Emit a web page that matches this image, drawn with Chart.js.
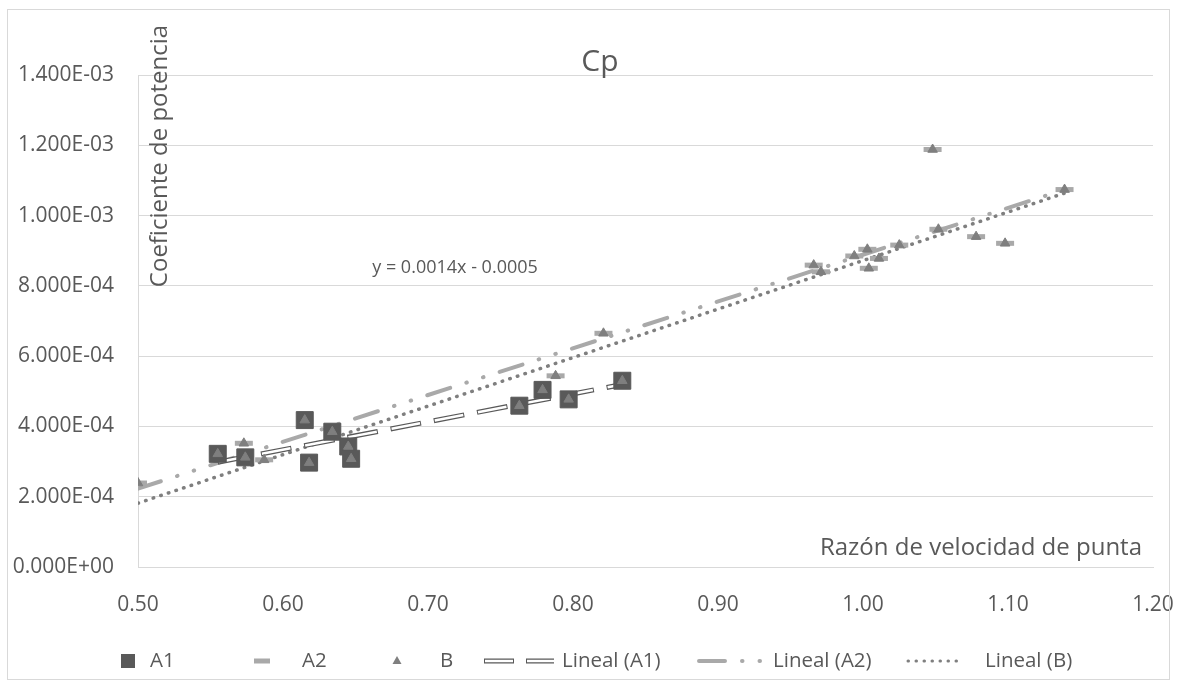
<!DOCTYPE html>
<html>
<head>
<meta charset="utf-8">
<script src="https://cdn.jsdelivr.net/npm/chart.js@4.4.1/dist/chart.umd.min.js"></script>
<style>
  html, body { margin: 0; background: #fff; }
  #wrap { width: 1177px; height: 681px; }
</style>
</head>
<body>
<div id="wrap"><canvas id="cpChart" width="1177" height="681"></canvas></div>
<script>
/* ---------------- DATA ---------------- */
const a1X = [0.555, 0.574, 0.615, 0.618, 0.634, 0.645, 0.647, 0.763, 0.779, 0.797, 0.834];
const a1Y = [3.22e-4, 3.12e-4, 4.18e-4, 2.97e-4, 3.85e-4, 3.43e-4, 3.08e-4, 4.59e-4, 5.04e-4, 4.77e-4, 5.30e-4];

const a2X = [0.500, 0.573, 0.587, 0.788, 0.821, 0.966, 0.971, 0.994, 1.003, 1.004, 1.011, 1.025, 1.048, 1.052, 1.078, 1.098, 1.139];
const a2Y = [2.39e-4, 3.52e-4, 3.05e-4, 5.44e-4, 6.65e-4, 8.59e-4, 8.40e-4, 8.85e-4, 9.04e-4, 8.50e-4, 8.78e-4, 9.16e-4, 1.188e-3, 9.61e-4, 9.40e-4, 9.21e-4, 1.074e-3];

// B = every measured point (A1 + A2)
const bX = a1X.concat(a2X);
const bY = a1Y.concat(a2Y);

const xTickValues = [0.5, 0.6, 0.7, 0.8, 0.9, 1.0, 1.1, 1.2];
const yTickValues = [0, 2e-4, 4e-4, 6e-4, 8e-4, 1e-3, 1.2e-3, 1.4e-3];

const equationText = "y = 0.0014x - 0.0005";
/* ------------------------------------------------------------- */

const GRAY_DARK = "#595959";
const GRAY_MID = "#7f7f7f";
const GRAY_LIGHT = "#a9a9a9";
const FONT = "'Open Sans', 'Noto Sans', sans-serif";

/* ---------- Helpers ---------- */
function toPoints(xs, ys) {
    return xs.map((x, i) => ({ x, y: ys[i] }));
}

// least squares line over the x range of the series (Excel "Lineal")
function trendLine(xs, ys) {
    const n = xs.length;
    const mx = xs.reduce((s, v) => s + v, 0) / n;
    const my = ys.reduce((s, v) => s + v, 0) / n;
    let sxy = 0, sxx = 0;
    for (let i = 0; i < n; i++) {
        sxy += (xs[i] - mx) * (ys[i] - my);
        sxx += (xs[i] - mx) * (xs[i] - mx);
    }
    const m = sxy / sxx;
    const b = my - m * mx;
    const x0 = Math.min(...xs), x1 = Math.max(...xs);
    return [{ x: x0, y: m * x0 + b }, { x: x1, y: m * x1 + b }];
}

function fmtE(v) {
    if (Math.abs(v) < 1e-12) return "0.000E+00";
    const [mant, exp] = v.toExponential(3).split("e");
    const e = parseInt(exp, 10);
    return mant + "E" + (e < 0 ? "-" : "+") + String(Math.abs(e)).padStart(2, "0");
}

const A1_DASH = [31, 13];
const A2_DASH = [24, 17, 0.5, 17, 0.5, 17];
const B_DASH = [0.5, 7.5];

/* ---------- Extra drawing: titles, legend, frame ---------- */
const decorPlugin = {
    id: "decor",
    afterDraw(chart) {
        const ctx = chart.ctx;
        ctx.save();
        ctx.fillStyle = GRAY_DARK;
        ctx.textBaseline = "middle";

        // title
        ctx.font = "30px " + FONT;
        ctx.textAlign = "center";
        ctx.fillText("Cp", 600, 62);

        // equation label
        ctx.font = "18px " + FONT;
        ctx.fillText(equationText, 455, 268);

        // axis titles
        ctx.font = "24px " + FONT;
        ctx.textAlign = "right";
        ctx.fillText("Razón de velocidad de punta", 1142, 548);

        ctx.save();
        ctx.translate(160, 156);
        ctx.rotate(-Math.PI / 2);
        ctx.textAlign = "center";
        ctx.fillText("Coeficiente de potencia", 0, 0);
        ctx.restore();

        // legend
        const ly = 661;
        ctx.font = "20.5px " + FONT;
        ctx.textAlign = "left";

        ctx.fillStyle = GRAY_DARK;
        ctx.fillRect(121, ly - 7, 14, 14);
        ctx.fillText("A1", 150, ly);

        ctx.fillStyle = GRAY_LIGHT;
        ctx.fillRect(254, ly - 2.5, 16, 5);
        ctx.fillStyle = GRAY_DARK;
        ctx.fillText("A2", 302, ly);

        ctx.fillStyle = GRAY_MID;
        ctx.beginPath();
        ctx.moveTo(397, ly - 5);
        ctx.lineTo(401.5, ly + 3);
        ctx.lineTo(392.5, ly + 3);
        ctx.closePath();
        ctx.fill();
        ctx.fillStyle = GRAY_DARK;
        ctx.fillText("B", 440, ly);

        // Lineal (A1): double line
        ctx.setLineDash([30, 12]);
        ctx.lineWidth = 5;
        ctx.strokeStyle = GRAY_DARK;
        ctx.beginPath(); ctx.moveTo(484, ly); ctx.lineTo(554, ly); ctx.stroke();
        ctx.setLineDash([28, 14]);
        ctx.lineDashOffset = -1;
        ctx.lineWidth = 2.5;
        ctx.strokeStyle = "#ffffff";
        ctx.beginPath(); ctx.moveTo(484, ly); ctx.lineTo(554, ly); ctx.stroke();
        ctx.lineDashOffset = 0;
        ctx.fillStyle = GRAY_DARK;
        ctx.fillText("Lineal (A1)", 562, ly);

        // Lineal (A2): dash dot dot
        ctx.lineCap = "round";
        ctx.setLineDash([26, 17, 0.5, 17, 0.5, 40]);
        ctx.lineWidth = 4;
        ctx.strokeStyle = GRAY_LIGHT;
        ctx.beginPath(); ctx.moveTo(699, ly); ctx.lineTo(763, ly); ctx.stroke();
        ctx.fillText("Lineal (A2)", 773, ly);

        // Lineal (B): round dots
        ctx.setLineDash(B_DASH);
        ctx.lineWidth = 3;
        ctx.strokeStyle = GRAY_MID;
        ctx.beginPath(); ctx.moveTo(908, ly); ctx.lineTo(962, ly); ctx.stroke();
        ctx.setLineDash([]);
        ctx.lineCap = "butt";
        ctx.fillText("Lineal (B)", 985, ly);

        // chart frame
        ctx.strokeStyle = "#d9d9d9";
        ctx.lineWidth = 1;
        ctx.strokeRect(7.5, 9.5, 1162, 670);
        ctx.restore();
    }
};

/* ---------- Chart ---------- */
const ctx = document.getElementById("cpChart").getContext("2d");

new Chart(ctx, {
    type: "scatter",
    data: {
        datasets: [
            {
                label: "B",
                data: toPoints(bX, bY),
                pointStyle: "triangle",
                pointRadius: 5.5,
                backgroundColor: GRAY_MID,
                borderColor: GRAY_MID,
                borderWidth: 1,
                order: 0
            },
            {
                label: "A2",
                data: toPoints(a2X, a2Y),
                pointStyle: "line",
                pointRadius: 9,
                borderWidth: 5,
                borderColor: GRAY_LIGHT,
                backgroundColor: GRAY_LIGHT,
                order: 1
            },
            {
                label: "A1",
                data: toPoints(a1X, a1Y),
                pointStyle: "rect",
                pointRadius: 12,
                backgroundColor: GRAY_DARK,
                borderColor: GRAY_DARK,
                borderWidth: 1,
                order: 2
            },
            {
                label: "Lineal (A1) inner",
                data: trendLine(a1X, a1Y),
                showLine: true,
                pointRadius: 0,
                borderColor: "#ffffff",
                borderWidth: 2.5,
                borderDash: [A1_DASH[0] - 2, A1_DASH[1] + 2],
                borderDashOffset: -1,
                order: 3
            },
            {
                label: "Lineal (A1)",
                data: trendLine(a1X, a1Y),
                showLine: true,
                pointRadius: 0,
                borderColor: GRAY_DARK,
                borderWidth: 5,
                borderDash: A1_DASH,
                order: 4
            },
            {
                label: "Lineal (A2)",
                data: trendLine(a2X, a2Y),
                showLine: true,
                pointRadius: 0,
                borderColor: GRAY_LIGHT,
                borderWidth: 4,
                borderDash: A2_DASH,
                borderCapStyle: "round",
                order: 5
            },
            {
                label: "Lineal (B)",
                data: trendLine(bX, bY),
                showLine: true,
                pointRadius: 0,
                borderColor: GRAY_MID,
                borderWidth: 3.5,
                borderDash: B_DASH,
                borderCapStyle: "round",
                order: 6
            }
        ]
    },
    options: {
        responsive: false,
        animation: false,
        devicePixelRatio: 1,
        layout: { padding: { top: 75, right: 24, left: 0, bottom: 0 } },
        plugins: {
            legend: { display: false },
            tooltip: { enabled: false }
        },
        scales: {
            x: {
                type: "linear",
                min: 0.5,
                max: 1.2,
                afterBuildTicks: s => { s.ticks = xTickValues.map(v => ({ value: v })); },
                afterFit: s => { s.height = 114; s.paddingLeft = 0; s.paddingRight = 0; },
                grid: { display: false, drawTicks: false },
                border: { display: true, color: "#d9d9d9", width: 1 },
                ticks: {
                    padding: 25,
                    color: GRAY_DARK,
                    font: { family: FONT, size: 21 },
                    maxRotation: 0,
                    callback: v => v.toFixed(2)
                }
            },
            y: {
                type: "linear",
                min: 0,
                max: 1.4e-3,
                afterBuildTicks: s => { s.ticks = yTickValues.map(v => ({ value: v })); },
                afterFit: s => { s.width = 138; },
                grid: { color: "#d9d9d9", lineWidth: 1, drawTicks: false },
                border: { display: true, color: "#d9d9d9", width: 1 },
                ticks: {
                    padding: 24,
                    color: GRAY_DARK,
                    font: { family: FONT, size: 21 },
                    callback: v => fmtE(v)
                }
            }
        }
    },
    plugins: [decorPlugin]
});
</script>
</body>
</html>
